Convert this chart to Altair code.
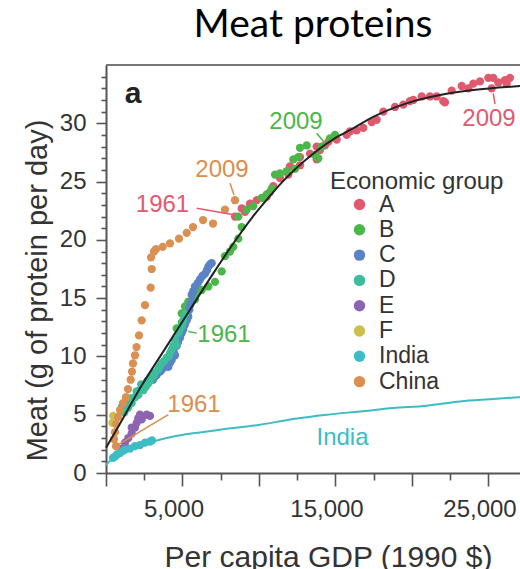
import altair as alt
import pandas as pd

# ---------------- scatter series: per capita GDP (1990 $) and meat protein (g/day) ----------------
a_gdp = [8431, 8869, 9085, 9412, 9850, 10281, 10504, 10719, 10935, 11373, 11915, 12026, 12680, 12680,
         13333, 13771, 13987, 13771, 14314, 14530, 15079, 15732, 15948, 16386, 16817, 17366, 17693,
         18125, 18889, 19432, 19869, 20085, 20634, 21177, 21614, 22046, 22157, 22595, 23249, 23680,
         24007, 24445, 24987, 25314, 25209, 25641, 26079, 26190, 26405]
a_meat = [22.0, 22.7, 22.4, 23.1, 23.4, 23.6, 23.7, 24.1, 24.6, 25.3, 25.6, 26.3, 26.4, 27.1,
          27.4, 28.0, 27.7, 26.9, 28.1, 28.4, 28.6, 29.0, 29.3, 29.4, 29.6, 30.1, 30.3,
          31.0, 31.4, 31.6, 31.9, 32.0, 32.3, 32.3, 32.3, 31.9, 31.8, 32.8, 33.2, 33.0,
          33.4, 33.6, 33.9, 33.9, 33.0, 33.5, 33.7, 33.4, 33.9]

b_gdp = [4621, 4948, 5379, 4948, 5163, 5379, 5817, 5817, 6255, 6686, 7124, 7562, 7778, 8105, 8320,
         8647, 8869, 8647, 9196, 9627, 10176, 10504, 10830, 11046, 11373, 11811, 12353, 12242,
         12569, 12680, 13118, 13660, 13876, 14098, 14641, 14967]
b_meat = [12.4, 12.9, 13.4, 13.7, 14.3, 14.7, 14.9, 15.4, 15.7, 16.0, 16.4, 17.3, 18.6, 19.0, 19.4,
          20.1, 21.1, 22.0, 22.6, 22.9, 23.6, 23.9, 24.4, 25.6, 25.7, 25.9, 26.1, 26.9,
          27.1, 27.9, 28.1, 27.3, 27.0, 28.0, 28.7, 29.0]

c_gdp = [2222, 2400, 2549, 2700, 2876, 3072, 3200, 3314, 3529, 3600, 3745, 3900, 4072, 4200, 4294,
         4379, 4450, 4510, 4621, 4700, 4837, 4950, 5052, 5150, 5274, 5350, 5445, 5500, 5601, 5601,
         5700, 5817, 6000, 6144, 6300, 6471, 6600, 6686, 6800, 6909]
c_meat = [7.1, 7.3, 7.6, 7.9, 8.1, 8.0, 8.3, 8.4, 8.7, 8.8, 9.0, 9.2, 9.1, 9.5, 9.7,
          10.6, 10.3, 10.1, 10.9, 11.2, 11.6, 12.0, 12.3, 12.7, 13.1, 13.5, 14.0, 14.4, 14.7, 15.3,
          15.6, 16.0, 16.3, 16.6, 16.9, 17.1, 17.4, 17.7, 17.9, 18.0]

d_gdp = [1046, 1200, 1307, 1438, 1600, 1680, 1895, 2000, 2111, 2300, 2438, 2600, 2765, 2900, 3092,
         3200, 3418, 3500, 3641, 3800, 3967, 4100, 4183, 4300, 4399, 4510, 4600, 4726, 4800, 4948,
         5000, 5052, 5163]
d_meat = [5.7, 5.2, 5.9, 5.6, 6.4, 6.0, 6.5, 7.0, 6.7, 7.6, 7.1, 7.4, 7.7, 8.0, 8.3,
          8.6, 8.9, 9.1, 9.4, 9.6, 9.9, 10.0, 10.3, 10.6, 10.9, 11.4, 11.0, 12.0, 12.2, 12.6,
          12.9, 13.1, 13.6]

e_gdp = [1026, 1242, 1458, 1680, 1680, 1895, 2006, 2111, 2333, 2222, 2660, 2876]
e_meat = [2.1, 2.6, 3.0, 3.4, 3.9, 3.9, 4.3, 4.7, 4.6, 5.0, 5.0, 4.9]

f_gdp = [420, 470]
f_meat = [4.3, 4.9]

india_gdp = [458, 588, 719, 915, 1111, 1242, 1569, 1895, 2222, 2549, 2876, 3007]
india_meat = [1.3, 1.4, 1.6, 1.7, 1.9, 2.0, 2.1, 2.3, 2.4, 2.6, 2.7, 2.8]

china_gdp = [654, 523, 588, 654, 784, 915, 1111, 1307, 1438, 1614, 1699, 1765, 1895, 1993, 2157,
             2333, 2549, 2922, 2987, 2941, 3137, 3268, 3706, 4183, 4771, 5274, 5686, 6340, 6994,
             7778, 8431]
china_meat = [2.3, 2.9, 3.5, 4.2, 4.8, 5.4, 6.0, 6.5, 7.2, 8.0, 8.7, 9.4, 10.1, 10.8, 11.8,
              13.1, 14.4, 15.9, 17.5, 18.5, 19.0, 19.2, 19.4, 19.7, 20.1, 20.6, 21.1, 21.7, 21.4,
              22.6, 23.4]

# ---------------- fitted curves ----------------
fit_gdp = [0, 915, 2222, 3856, 5490, 7000, 8500, 9500, 10500, 11500, 12500, 13500, 15000,
           16000, 17500, 19650, 21830, 24007, 27060]
fit_meat = [2.17, 4.23, 7.27, 10.65, 14.0, 17.1, 20.03, 21.83, 23.43, 24.93, 26.23, 27.35, 28.75,
            29.45, 30.57, 31.71, 32.42, 32.85, 33.19]

india_fit_gdp = [0, 261, 915, 1784, 2876, 3967, 5052, 6144, 7451, 10065, 12242, 14425, 16608,
                 18778, 20961, 23137, 25314, 27060]
india_fit_meat = [0.7, 1.05, 1.57, 2.14, 2.62, 3.0, 3.28, 3.48, 3.71, 4.14, 4.63, 5.0, 5.28,
                  5.57, 5.77, 6.14, 6.34, 6.51]

# ---------------- groups and colours ----------------
groups = ["A", "B", "C", "D", "E", "F", "India", "China"]
group_colors = ["#E0596F", "#4BB749", "#5A83C6", "#3DBE9B", "#8C64B1", "#C9C14B", "#3DBCC6", "#DA9052"]
draw_order = ["F", "A", "B", "C", "D", "E", "India", "China"]

# ---------------- annotations ----------------
note_text = ["2009", "1961", "2009", "2009", "1961", "1961", "India"]
note_gdp = [7582, 3693, 12418, 25033, 7712, 5752, 15458]
note_meat = [25.35, 22.35, 29.55, 29.8, 11.2, 5.25, 2.43]
note_color = ["#D98F4E", "#E05A70", "#4BB749", "#E05A70", "#4BB749", "#D98F4E", "#3DBCC6"]

panel_text = ["a"]
panel_gdp = [1765]
panel_meat = [31.74]

legend_title = ["Economic group"]
legend_title_gdp = [14641]
legend_title_meat = [24.4]

lead_gdp = [8105, 5928, 13771, 25314, 5379, 4072]
lead_meat = [24.86, 22.71, 29.14, 32.57, 12.14, 5.0]
lead_gdp2 = [8366, 8431, 14314, 25425, 5928, 804]
lead_meat2 = [23.85, 22.14, 28.28, 31.65, 12.0, 2.43]
lead_color = ["#D98F4E", "#E05A70", "#4BB749", "#E05A70", "#4BB749", "#D98F4E"]

# ---------------- tables ----------------
series = {
    "A": (a_gdp, a_meat), "B": (b_gdp, b_meat), "C": (c_gdp, c_meat), "D": (d_gdp, d_meat),
    "E": (e_gdp, e_meat), "F": (f_gdp, f_meat), "India": (india_gdp, india_meat),
    "China": (china_gdp, china_meat),
}
rows = []
for name in draw_order:
    xs, ys = series[name]
    for gx, my in zip(xs, ys):
        rows.append({"group": name, "gdp": gx, "meat": my})
points_df = pd.DataFrame(rows)
points_df["idx"] = range(len(points_df))

fit_df = pd.DataFrame({"gdp": fit_gdp, "meat": fit_meat})
india_fit_df = pd.DataFrame({"gdp": india_fit_gdp, "meat": india_fit_meat})
notes_df = pd.DataFrame({"text": note_text, "gdp": note_gdp, "meat": note_meat, "color": note_color})
panel_df = pd.DataFrame({"text": panel_text, "gdp": panel_gdp, "meat": panel_meat})
legend_title_df = pd.DataFrame({"text": legend_title, "gdp": legend_title_gdp, "meat": legend_title_meat})
leads_df = pd.DataFrame({"gdp": lead_gdp, "meat": lead_meat, "gdp2": lead_gdp2,
                         "meat2": lead_meat2, "color": lead_color})

FONT = "Liberation Sans"
AXIS_COLOR = "#555555"
TEXT_COLOR = "#333333"

x_scale = alt.Scale(domain=[0, 27060], nice=False, zero=False)
y_scale = alt.Scale(domain=[0, 35], nice=False, zero=False)

x_axis = alt.Axis(
    values=list(range(0, 25001, 2500)),
    labelExpr="datum.value % 10000 === 5000 ? format(datum.value, ',') : ''",
    tickSize={"expr": "datum.value % 5000 === 0 ? 13 : 7"},
    tickWidth=1.6, tickColor=AXIS_COLOR, domainColor=AXIS_COLOR, domainWidth=2,
    labelFont=FONT, labelFontSize=24, labelColor=TEXT_COLOR, labelPadding=11,
    labelOffset=-9, labelOverlap=False, labelFlush=False, grid=False,
    title="Per capita GDP (1990 $)", titleFont=FONT, titleFontSize=30,
    titleFontWeight="normal", titleColor=TEXT_COLOR,
    titleX=222, titleY=93, titleBaseline="alphabetic", titleAlign="center",
)
y_axis = alt.Axis(
    values=list(range(0, 35)),
    labelExpr="datum.value % 5 === 0 ? format(datum.value, 'd') : ''",
    tickSize={"expr": "datum.value % 5 === 0 ? 10 : 5"},
    tickWidth=1.6, tickColor=AXIS_COLOR, domainColor=AXIS_COLOR, domainWidth=2,
    labelFont=FONT, labelFontSize=24, labelColor=TEXT_COLOR, labelPadding=10,
    labelOverlap=False, labelFlush=False, grid=False,
    title="Meat (g of protein per day)", titleFont=FONT, titleFontSize=29,
    titleFontWeight="normal", titleColor=TEXT_COLOR,
    titleX=-69, titleY=225, titleBaseline="middle", titleAlign="center", titleAngle=-90,
)


def xy():
    # every layer shares the same scales and identical axis definitions
    return dict(
        x=alt.X("gdp:Q", scale=x_scale, axis=x_axis),
        y=alt.Y("meat:Q", scale=y_scale, axis=y_axis),
    )


points = alt.Chart(points_df).mark_circle(size=68, opacity=1).encode(
    **xy(),
    color=alt.Color(
        "group:N",
        scale=alt.Scale(domain=groups, range=group_colors),
        legend=alt.Legend(
            title=None, orient="none", legendX=242, legendY=128, padding=0,
            symbolType="circle", symbolSize=130, symbolStrokeWidth=0, symbolOpacity=1,
            labelFont=FONT, labelFontSize=23, labelColor=TEXT_COLOR, labelOffset=8,
            rowPadding=1.3,
        ),
    ),
    order=alt.Order("idx:Q"),
)

fit_line = alt.Chart(fit_df).mark_line(
    color="#222222", strokeWidth=2, interpolate="monotone"
).encode(**xy())

india_line = alt.Chart(india_fit_df).mark_line(
    color="#3DBCC6", strokeWidth=2, interpolate="monotone"
).encode(**xy())

leaders = alt.Chart(leads_df).mark_rule(strokeWidth=1.5).encode(
    **xy(),
    x2="gdp2:Q",
    y2="meat2:Q",
    color=alt.Color("color:N", scale=None),
)

year_labels = alt.Chart(notes_df).mark_text(
    font=FONT, fontSize=24, baseline="alphabetic", align="center"
).encode(**xy(), text="text:N", color=alt.Color("color:N", scale=None))

panel_label = alt.Chart(panel_df).mark_text(
    font=FONT, fontSize=30, fontWeight="bold", baseline="alphabetic", align="center", color="#222222"
).encode(**xy(), text="text:N")

legend_heading = alt.Chart(legend_title_df).mark_text(
    font=FONT, fontSize=24, baseline="alphabetic", align="left", color=TEXT_COLOR
).encode(**xy(), text="text:N")

top_edge = alt.Chart(pd.DataFrame({"edge": ["top"]})).mark_rule(color="#777777", strokeWidth=2).encode(
    x=alt.value(0), x2=alt.value(414), y=alt.value(0)
)

chart = alt.layer(
    points, fit_line, india_line, leaders, year_labels, panel_label, legend_heading, top_edge
).properties(
    width=414,
    height=408,
    padding={"left": 106, "top": 65, "right": 0, "bottom": 96},
    autosize=alt.AutoSizeParams(type="none"),
    title=alt.TitleParams(
        "Meat proteins", font="Lato", fontSize=39, fontWeight="normal", color="#000000",
        anchor="middle", baseline="alphabetic", offset=28, dy=40,
    ),
    background="white",
).configure_view(strokeWidth=0)

chart.save("out.html", embed_options={"renderer": "svg", "actions": False})
